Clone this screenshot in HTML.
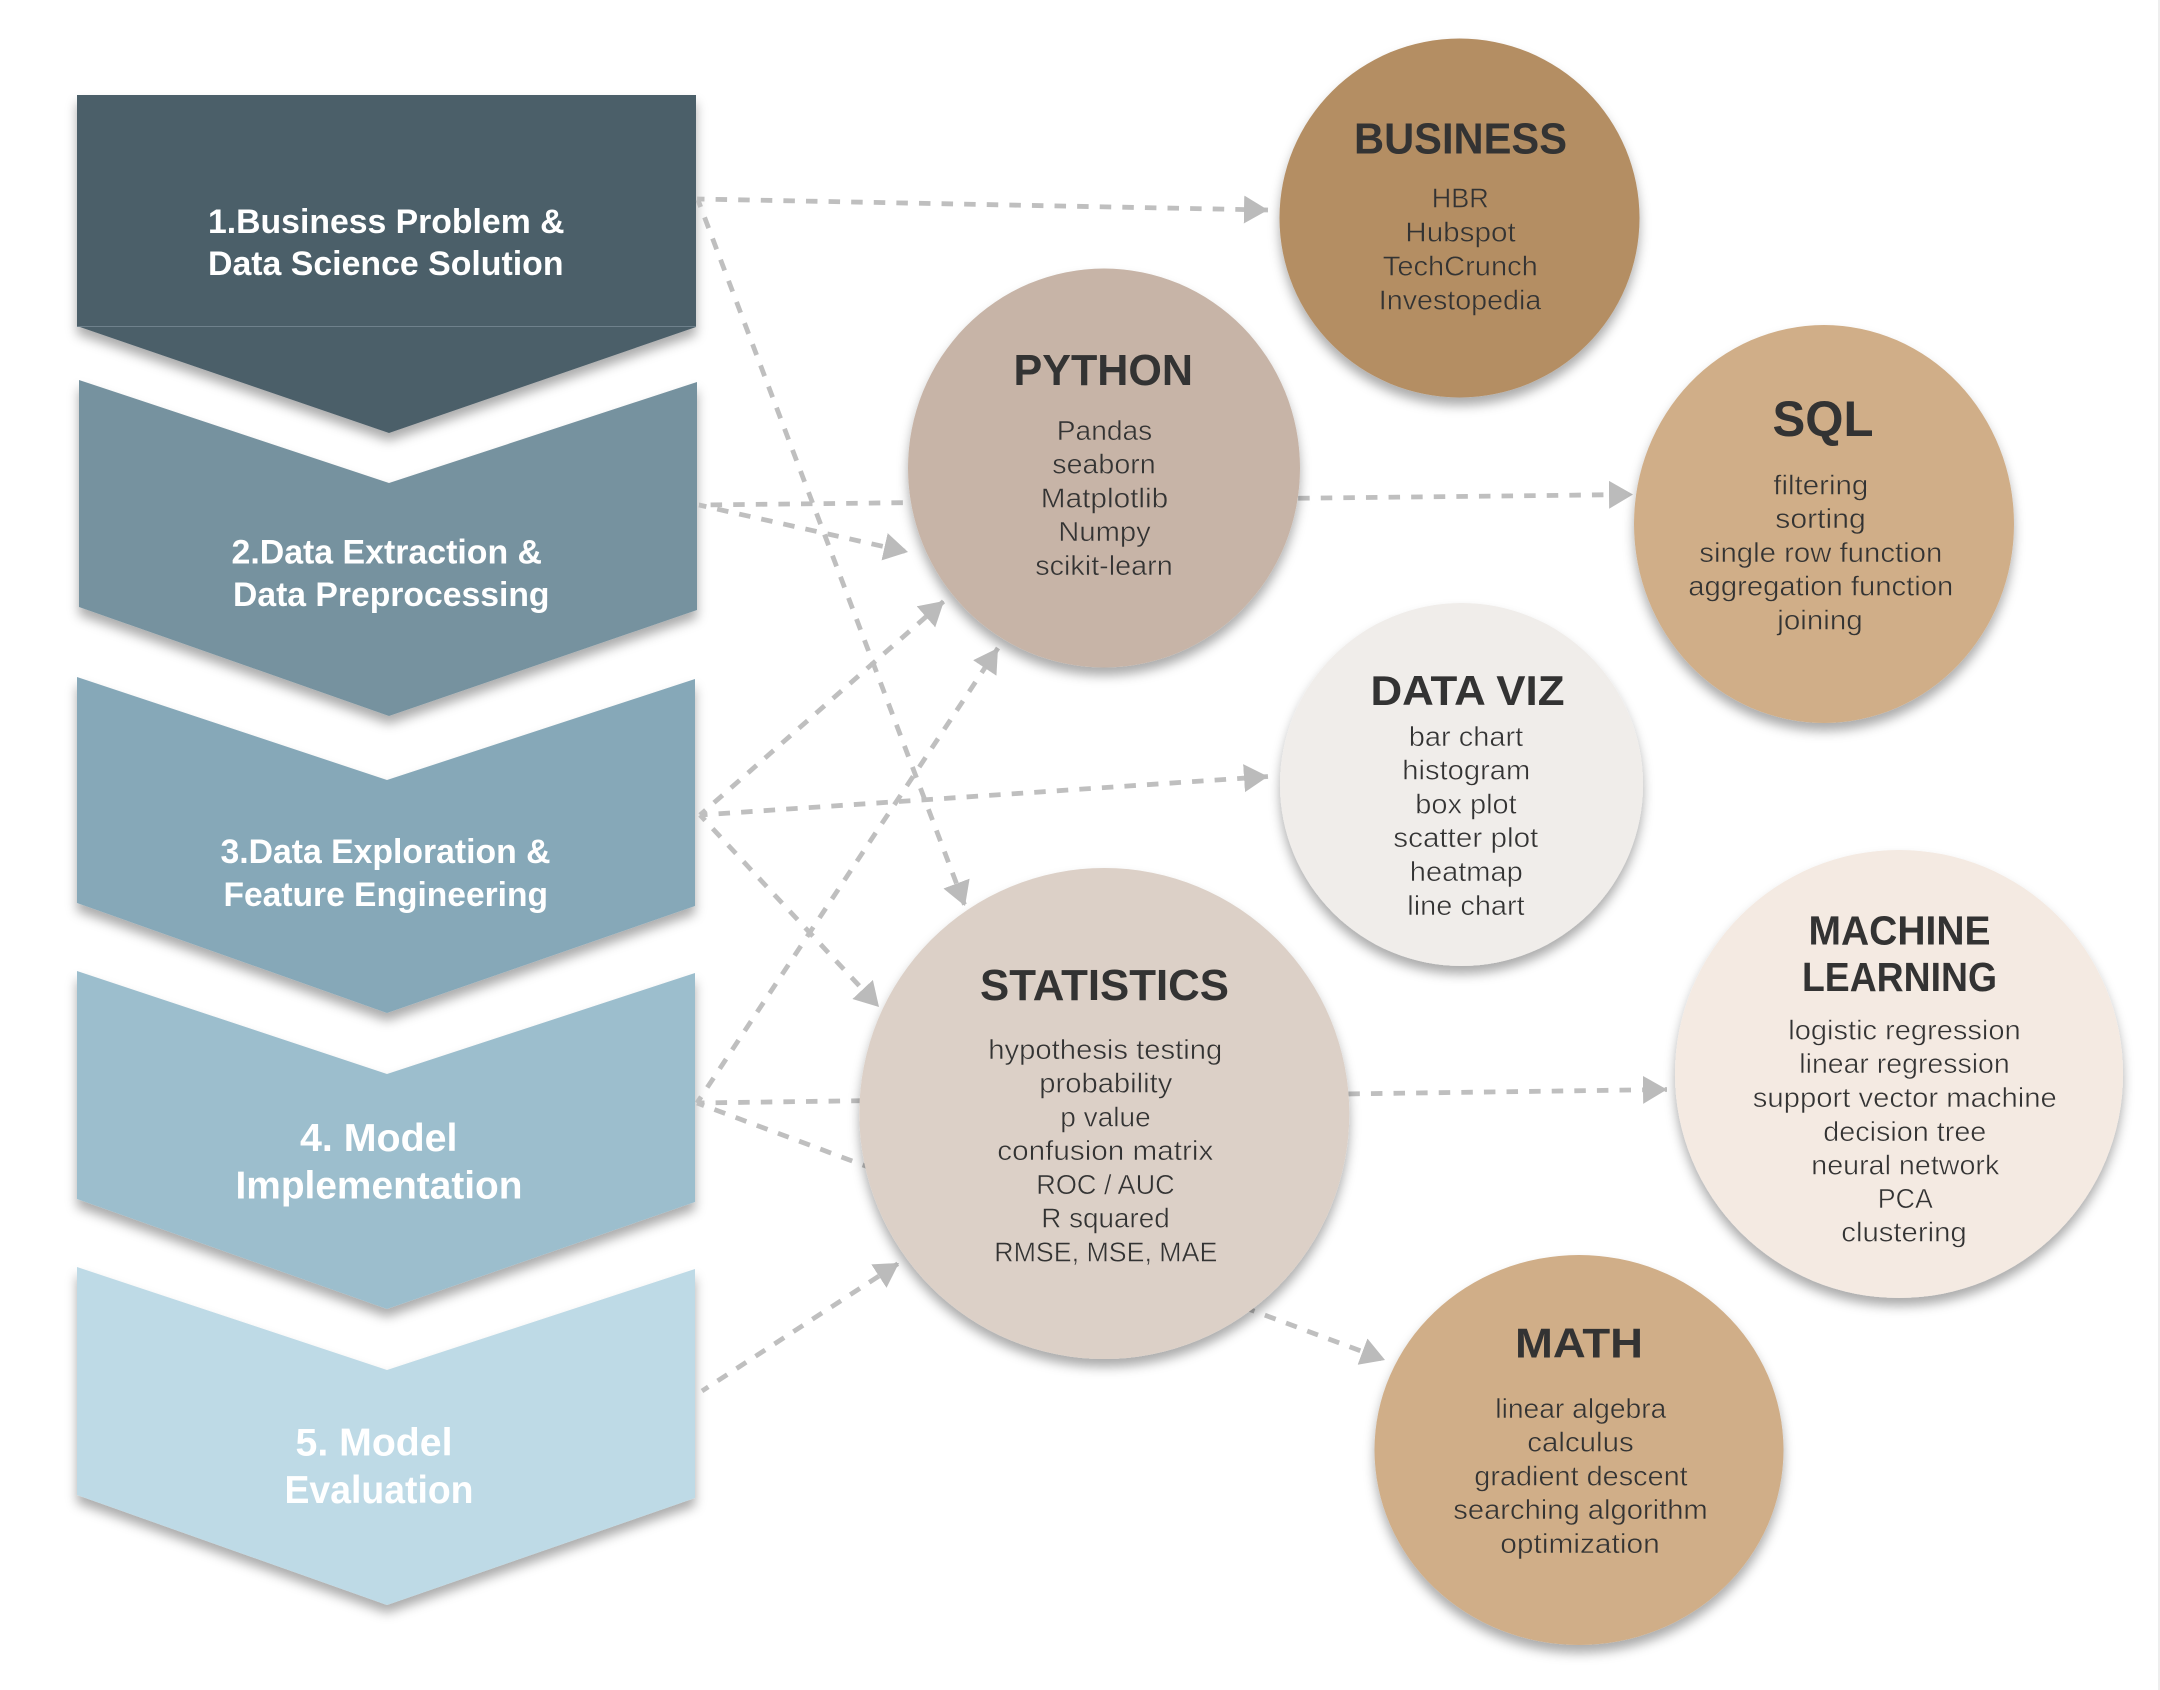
<!DOCTYPE html>
<html><head><meta charset="utf-8">
<style>
html,body{margin:0;padding:0;background:#fff;width:2160px;height:1690px;overflow:hidden}
svg{display:block}
text{font-family:"Liberation Sans",sans-serif}
.w{fill:#fff;font-weight:700}
.h{fill:#333;font-weight:700}
.b{fill:#333;font-size:28px;stroke-width:.5px}
</style></head><body>
<svg width="2160" height="1690" viewBox="0 0 2160 1690" xmlns="http://www.w3.org/2000/svg">
<defs>
<filter id="s" x="-10%" y="-10%" width="120%" height="125%"><feDropShadow dx="0" dy="8" stdDeviation="5.5" flood-color="#000" flood-opacity=".33"/></filter>
<marker id="a" markerUnits="userSpaceOnUse" markerWidth="26" markerHeight="30" refX="24" refY="14" orient="auto"><path d="M0 0L24 14L0 28Z" fill="#bbb"/></marker>
</defs>
<rect x="2158" y="0" width="2" height="1690" fill="#eee"/>
<g filter="url(#s)"><polygon points="77,1267 387,1370 695,1269 695,1498 387,1605 77,1495" fill="#bedae6"/></g>
<g filter="url(#s)"><polygon points="77,971 387,1074 695,973 695,1202 387,1309 77,1199" fill="#9cbecd"/></g>
<g filter="url(#s)"><polygon points="77,677 387,780 695,679 695,906 387,1013 77,903" fill="#86a8b8"/></g>
<g filter="url(#s)"><polygon points="79,380 389,483 697,382 697,610 389,716 79,607" fill="#76929f"/></g>
<g filter="url(#s)"><polygon points="77,95 696,95 696,327 389,433 77,326" fill="#4c5e69"/></g>
<line x1="77" y1="326.5" x2="696" y2="326.5" stroke="#6f818c" stroke-width="1"/>
<g stroke="#bfbfbf" stroke-width="4.8" stroke-dasharray="11.5 11.1" stroke-dashoffset="4" fill="none" marker-end="url(#a)">
<line x1="697" y1="199" x2="1268" y2="210"/>
<line x1="698" y1="200" x2="965" y2="906"/>
<line x1="699" y1="505" x2="1633" y2="494.5" stroke-dashoffset="11"/>
<line x1="699" y1="505" x2="908" y2="552"/>
<line x1="700" y1="815" x2="944" y2="601"/>
<line x1="700" y1="815" x2="1268" y2="776.5"/>
<line x1="700" y1="815" x2="879" y2="1007"/>
<line x1="697" y1="1103" x2="998" y2="648"/>
<line x1="697" y1="1103" x2="1667" y2="1089.5"/>
<line x1="697" y1="1103" x2="1385" y2="1360"/>
<line x1="702" y1="1391" x2="899" y2="1263"/>
</g>
<g filter="url(#s)"><ellipse cx="1459.5" cy="218" rx="180" ry="179.5" fill="#b48e64"/></g>
<g filter="url(#s)"><ellipse cx="1824" cy="524" rx="190" ry="199" fill="#d0ae88"/></g>
<g filter="url(#s)"><ellipse cx="1461.5" cy="784.5" rx="181.5" ry="181.5" fill="#f0edea"/></g>
<g filter="url(#s)"><ellipse cx="1899" cy="1074" rx="224" ry="224" fill="#f4eae2"/></g>
<g filter="url(#s)"><ellipse cx="1579" cy="1450" rx="204.5" ry="195" fill="#d0ae88"/></g>
<g filter="url(#s)"><ellipse cx="1104" cy="468" rx="196" ry="199.5" fill="#c7b4a7"/></g>
<g filter="url(#s)"><ellipse cx="1104.3" cy="1113.5" rx="245" ry="245.5" fill="#dcd0c7"/></g>

<text class="w" font-size="34" x="208" y="233" textLength="356.5" lengthAdjust="spacingAndGlyphs">1.Business Problem &amp;</text>
<text class="w" font-size="34" x="208" y="275" textLength="355.5" lengthAdjust="spacingAndGlyphs">Data Science Solution</text>
<text class="w" font-size="34" x="231.5" y="563.5" textLength="310.5" lengthAdjust="spacingAndGlyphs">2.Data Extraction &amp;</text>
<text class="w" font-size="34" x="233" y="606" textLength="316.5" lengthAdjust="spacingAndGlyphs">Data Preprocessing</text>
<text class="w" font-size="34" x="220.5" y="863" textLength="330" lengthAdjust="spacingAndGlyphs">3.Data Exploration &amp;</text>
<text class="w" font-size="34" x="223.5" y="906" textLength="324.5" lengthAdjust="spacingAndGlyphs">Feature Engineering</text>
<text class="w" font-size="39" x="300" y="1151" textLength="157.5" lengthAdjust="spacingAndGlyphs">4. Model</text>
<text class="w" font-size="39" x="235.5" y="1198.5" textLength="287" lengthAdjust="spacingAndGlyphs">Implementation</text>
<text class="w" font-size="39" x="295.5" y="1455.5" textLength="157" lengthAdjust="spacingAndGlyphs">5. Model</text>
<text class="w" font-size="39" x="284.5" y="1503" textLength="189" lengthAdjust="spacingAndGlyphs">Evaluation</text>

<text class="h" font-size="44" x="1354" y="153.5" textLength="213" lengthAdjust="spacingAndGlyphs">BUSINESS</text>
<g stroke="#b48e64">
<text class="b" x="1431.8" y="207.7" textLength="57" lengthAdjust="spacingAndGlyphs">HBR</text>
<text class="b" x="1405.3" y="241.5" textLength="110.4" lengthAdjust="spacingAndGlyphs">Hubspot</text>
<text class="b" x="1382.8" y="275.3" textLength="155" lengthAdjust="spacingAndGlyphs">TechCrunch</text>
<text class="b" x="1378.8" y="309.5" textLength="162.5" lengthAdjust="spacingAndGlyphs">Investopedia</text>
</g>

<text class="h" font-size="50" x="1772.5" y="436" textLength="101" lengthAdjust="spacingAndGlyphs">SQL</text>
<g stroke="#d0ae88">
<text class="b" x="1773.3" y="494.5" textLength="95" lengthAdjust="spacingAndGlyphs">filtering</text>
<text class="b" x="1775.3" y="528" textLength="90.4" lengthAdjust="spacingAndGlyphs">sorting</text>
<text class="b" x="1699.3" y="562" textLength="243" lengthAdjust="spacingAndGlyphs">single row function</text>
<text class="b" x="1688.3" y="595.5" textLength="265" lengthAdjust="spacingAndGlyphs">aggregation function</text>
<text class="b" x="1777.3" y="629.5" textLength="85.4" lengthAdjust="spacingAndGlyphs">joining</text>
</g>

<text class="h" font-size="42" x="1370.5" y="705" textLength="194" lengthAdjust="spacingAndGlyphs">DATA VIZ</text>
<g stroke="#f0edea">
<text class="b" x="1408.8" y="746" textLength="114.4" lengthAdjust="spacingAndGlyphs">bar chart</text>
<text class="b" x="1402.3" y="779.5" textLength="128" lengthAdjust="spacingAndGlyphs">histogram</text>
<text class="b" x="1415.3" y="813.5" textLength="101.4" lengthAdjust="spacingAndGlyphs">box plot</text>
<text class="b" x="1393.3" y="847" textLength="145" lengthAdjust="spacingAndGlyphs">scatter plot</text>
<text class="b" x="1409.8" y="881" textLength="113" lengthAdjust="spacingAndGlyphs">heatmap</text>
<text class="b" x="1407.3" y="915" textLength="117.4" lengthAdjust="spacingAndGlyphs">line chart</text>
</g>

<text class="h" font-size="41" x="1808.5" y="944.5" textLength="182" lengthAdjust="spacingAndGlyphs">MACHINE</text>
<text class="h" font-size="41" x="1802" y="991" textLength="195" lengthAdjust="spacingAndGlyphs">LEARNING</text>
<g stroke="#f4eae2">
<text class="b" x="1788.3" y="1039.5" textLength="232.4" lengthAdjust="spacingAndGlyphs">logistic regression</text>
<text class="b" x="1799.3" y="1073" textLength="210.4" lengthAdjust="spacingAndGlyphs">linear regression</text>
<text class="b" x="1752.8" y="1107" textLength="304" lengthAdjust="spacingAndGlyphs">support vector machine</text>
<text class="b" x="1823.3" y="1141" textLength="163" lengthAdjust="spacingAndGlyphs">decision tree</text>
<text class="b" x="1811.3" y="1174.5" textLength="188" lengthAdjust="spacingAndGlyphs">neural network</text>
<text class="b" x="1877.8" y="1208" textLength="55" lengthAdjust="spacingAndGlyphs">PCA</text>
<text class="b" x="1841.3" y="1241.5" textLength="125.4" lengthAdjust="spacingAndGlyphs">clustering</text>
</g>

<text class="h" font-size="42" x="1515" y="1357.5" textLength="128" lengthAdjust="spacingAndGlyphs">MATH</text>
<g stroke="#d0ae88">
<text class="b" x="1495.3" y="1418" textLength="171" lengthAdjust="spacingAndGlyphs">linear algebra</text>
<text class="b" x="1527.3" y="1451.5" textLength="106.4" lengthAdjust="spacingAndGlyphs">calculus</text>
<text class="b" x="1474.3" y="1485.5" textLength="213.4" lengthAdjust="spacingAndGlyphs">gradient descent</text>
<text class="b" x="1453.3" y="1519" textLength="254.4" lengthAdjust="spacingAndGlyphs">searching algorithm</text>
<text class="b" x="1500.3" y="1553" textLength="159.4" lengthAdjust="spacingAndGlyphs">optimization</text>
</g>

<text class="h" font-size="44" x="1013.5" y="385" textLength="179.5" lengthAdjust="spacingAndGlyphs">PYTHON</text>
<g stroke="#c7b4a7">
<text class="b" x="1056.8" y="440" textLength="95.4" lengthAdjust="spacingAndGlyphs">Pandas</text>
<text class="b" x="1052.3" y="473.5" textLength="103.4" lengthAdjust="spacingAndGlyphs">seaborn</text>
<text class="b" x="1040.8" y="507.5" textLength="127.4" lengthAdjust="spacingAndGlyphs">Matplotlib</text>
<text class="b" x="1058.3" y="541" textLength="92.4" lengthAdjust="spacingAndGlyphs">Numpy</text>
<text class="b" x="1035.3" y="575" textLength="137.4" lengthAdjust="spacingAndGlyphs">scikit-learn</text>
</g>

<text class="h" font-size="44" x="980" y="1000" textLength="249" lengthAdjust="spacingAndGlyphs">STATISTICS</text>
<g stroke="#dcd0c7">
<text class="b" x="988.3" y="1059" textLength="234" lengthAdjust="spacingAndGlyphs">hypothesis testing</text>
<text class="b" x="1039.3" y="1092.5" textLength="133" lengthAdjust="spacingAndGlyphs">probability</text>
<text class="b" x="1060.3" y="1126.5" textLength="90.4" lengthAdjust="spacingAndGlyphs">p value</text>
<text class="b" x="997.3" y="1160" textLength="216" lengthAdjust="spacingAndGlyphs">confusion matrix</text>
<text class="b" x="1036.3" y="1194" textLength="138.4" lengthAdjust="spacingAndGlyphs">ROC / AUC</text>
<text class="b" x="1041.3" y="1227.5" textLength="128.4" lengthAdjust="spacingAndGlyphs">R squared</text>
<text class="b" x="994.3" y="1261.5" textLength="223" lengthAdjust="spacingAndGlyphs">RMSE, MSE, MAE</text>
</g>
</svg>
</body></html>
